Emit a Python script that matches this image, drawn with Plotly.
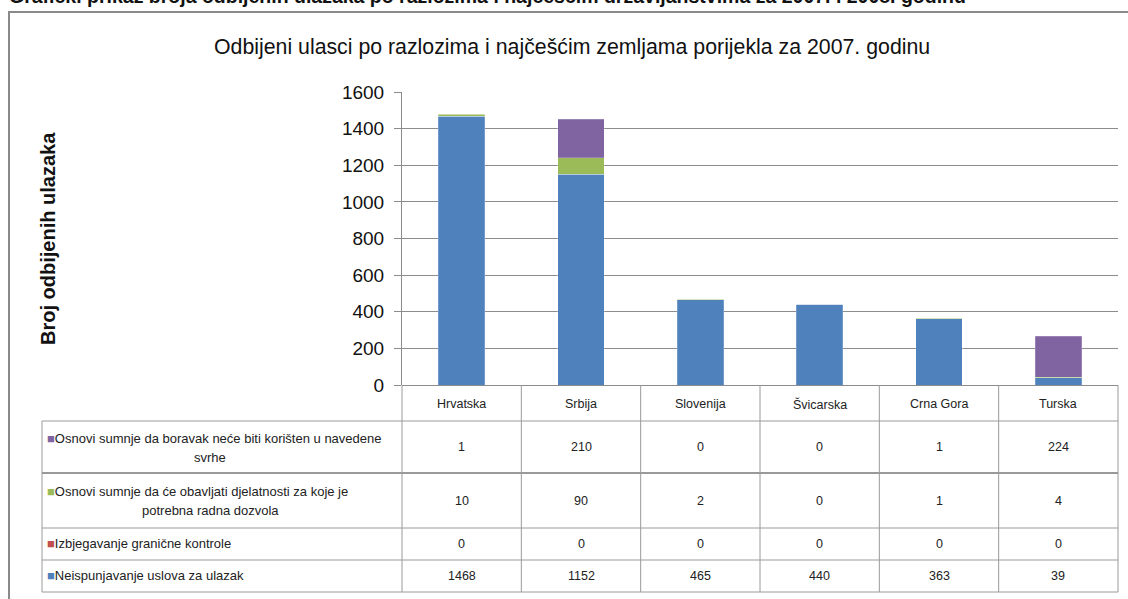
import plotly.graph_objects as go

categories = ["Hrvatska", "Srbija", "Slovenija", "Švicarska", "Crna Gora", "Turska"]
neispunjavanje = [1468, 1152, 465, 440, 363, 39]
izbjegavanje = [0, 0, 0, 0, 0, 0]
djelatnosti = [10, 90, 2, 0, 1, 4]
boravak = [1, 210, 0, 0, 1, 224]

series = [
    ("Neispunjavanje uslova za ulazak", neispunjavanje, "#4F81BD"),
    ("Izbjegavanje granične kontrole", izbjegavanje, "#C0504D"),
    ("Osnovi sumnje da će obavljati djelatnosti za koje je potrebna radna dozvola", djelatnosti, "#9BBB59"),
    ("Osnovi sumnje da boravak neće biti korišten u navedene svrhe", boravak, "#8064A2"),
]

title = "Odbijeni ulasci po razlozima i najčešćim zemljama porijekla za 2007. godinu"
caption = "Grafički prikaz broja odbijenih ulazaka po razlozima i najčešćim državljanstvima za 2007. i 2008. godinu"
ytitle = "Broj odbijenih ulazaka"

W, H = 1128, 599
L, R, T, B = 402, 1118, 92, 385
FONT = "Liberation Sans"
GRID = "#8c8c8c"


def px(x):
    return (x - L) / (R - L)


def py(y):
    return (B - y) / (B - T)


fig = go.Figure()
for name, vals, col in series:
    fig.add_trace(go.Bar(
        x=categories, y=vals, name=name,
        marker=dict(color=col, line=dict(color="rgba(255,255,255,0.4)", width=0.5)),
        width=0.39,
    ))

shapes = []
ann = []

# outer frame
shapes.append(dict(type="rect", xref="paper", yref="paper",
                   x0=px(9), x1=px(1140), y0=py(620), y1=py(12),
                   line=dict(color="#8a8a8a", width=2), fillcolor="rgba(0,0,0,0)", layer="below"))

# table lines
row_lines = [421, 473, 528, 560, 592]
for yy in row_lines:
    shapes.append(dict(type="line", xref="paper", yref="paper",
                       x0=px(42), x1=px(R), y0=py(yy), y1=py(yy),
                       line=dict(color="#9a9a9a", width=2 if yy == 473 else 1)))
ncat = len(categories)
for k in range(ncat + 1):
    shapes.append(dict(type="line", xref="paper", yref="paper",
                       x0=k / ncat, x1=k / ncat, y0=py(B), y1=py(592),
                       line=dict(color="#9a9a9a", width=1)))
shapes.append(dict(type="line", xref="paper", yref="paper",
                   x0=px(42), x1=px(42), y0=py(421), y1=py(592),
                   line=dict(color="#9a9a9a", width=1)))

TF = dict(size=12.5, color="#222", family=FONT)

# header country names
for c in categories:
    ann.append(dict(x=c, xref="x", y=py(404), yref="paper", text=c, showarrow=False,
                    font=TF, xanchor="center", yanchor="middle"))

# table rows: label lines and values
rows = [
    (boravak, "#8064A2", ["Osnovi sumnje da boravak neće biti korišten u navedene", "svrhe"], [438, 457], 447),
    (djelatnosti, "#9BBB59", ["Osnovi sumnje da će obavljati djelatnosti za koje je", "potrebna radna dozvola"], [491, 510], 501),
    (izbjegavanje, "#C0504D", ["Izbjegavanje granične kontrole"], [543], 544),
    (neispunjavanje, "#4F81BD", ["Neispunjavanje uslova za ulazak"], [575], 576),
]
for vals, col, lines, ys, yv in rows:
    ann.append(dict(x=px(45), xref="paper", y=py(ys[0]), yref="paper",
                    text=f"<span style='color:{col}'>■</span>{lines[0]}",
                    showarrow=False, xanchor="left", yanchor="middle",
                    font=dict(size=13, color="#222", family=FONT)))
    if len(lines) > 1:
        ann.append(dict(x=px(210), xref="paper", y=py(ys[1]), yref="paper", text=lines[1],
                        showarrow=False, xanchor="center", yanchor="middle",
                        font=dict(size=13, color="#222", family=FONT)))
    for c, v in zip(categories, vals):
        ann.append(dict(x=c, xref="x", y=py(yv), yref="paper", text=str(v), showarrow=False,
                        xanchor="center", yanchor="middle", font=TF))

# titles
ann.append(dict(x=px(572), xref="paper", y=py(47), yref="paper", text=title, showarrow=False,
                xanchor="center", yanchor="middle", font=dict(size=21.3, color="#111", family=FONT)))
ann.append(dict(x=px(48), xref="paper", y=py(239), yref="paper", text=f"<b>{ytitle}</b>", showarrow=False,
                textangle=-90, xanchor="center", yanchor="middle", font=dict(size=20, color="#111", family=FONT)))
ann.append(dict(x=px(7), xref="paper", y=py(9), yref="paper", text=f"<b>{caption}</b>", showarrow=False,
                xanchor="left", yanchor="bottom", font=dict(size=19.5, color="#111", family=FONT)))

fig.update_layout(
    barmode="stack",
    width=W, height=H,
    margin=dict(l=L, r=W - R, t=T, b=H - B, pad=0),
    paper_bgcolor="white", plot_bgcolor="white",
    showlegend=False,
    shapes=shapes, annotations=ann,
    font=dict(family=FONT, color="#111"),
    xaxis=dict(type="category", range=[-0.5, 5.5], showticklabels=False, showgrid=False,
               showline=False, zeroline=False, ticks=""),
    yaxis=dict(range=[0, 1600], dtick=200, tick0=0, showgrid=True, gridcolor=GRID, gridwidth=1,
               showline=True, linecolor=GRID, linewidth=1, ticks="outside", ticklen=7,
               tickcolor=GRID, zeroline=True, zerolinecolor=GRID, zerolinewidth=1,
               tickfont=dict(size=19, color="#111", family=FONT), ticklabelstandoff=6),
)

fig.write_html("out.html", config={"displayModeBar": False},
               post_script="document.body.style.margin='0px';document.body.style.overflow='hidden';")
